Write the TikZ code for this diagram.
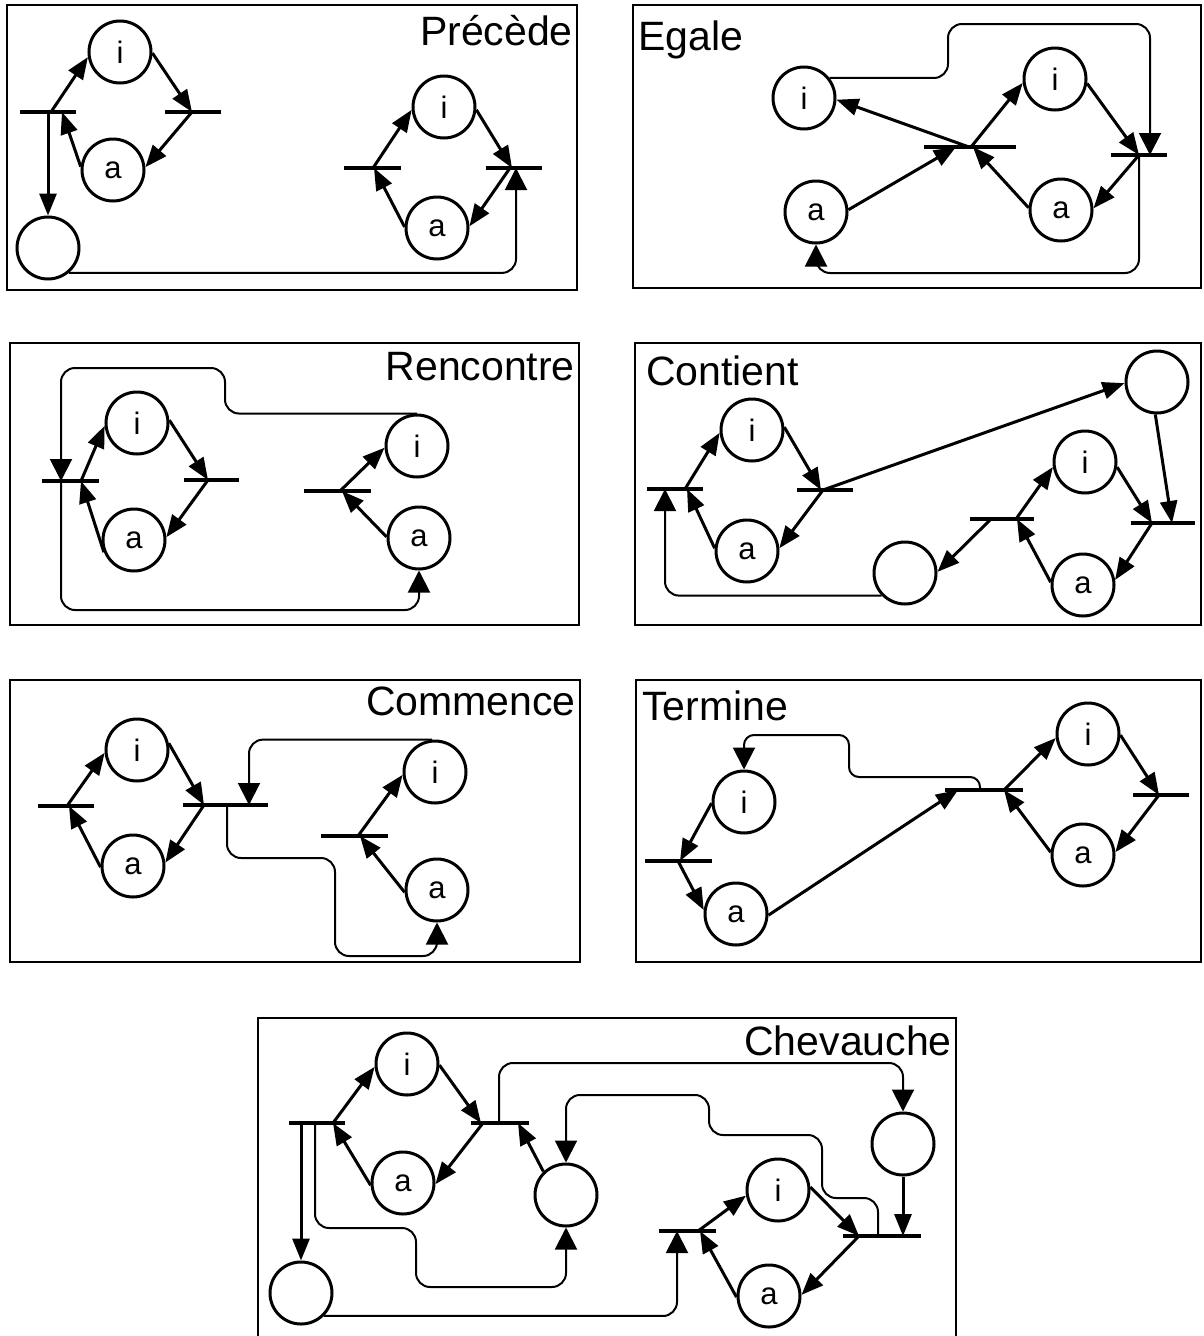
\documentclass[tikz,border=0pt]{standalone}
\usepackage{fontspec}
\setmainfont{Liberation Sans}
\usetikzlibrary{arrows.meta}
\begin{document}
\begin{tikzpicture}[x=1pt,y=-1pt,
  circ/.style={circle, draw, line width=3pt, minimum size=62pt, inner sep=0pt, font=\fontsize{31}{31}\selectfont},
  bar/.style={rectangle, fill=black, minimum height=4.4pt, inner sep=0pt, outer sep=0pt},
  arr/.style={line width=3pt, -{Triangle[length=22pt,width=17pt]}},
  connarr/.style={line width=2pt, rounded corners=14pt, -{Triangle[length=22pt,width=22pt]}},
  panel/.style={draw, line width=2.3pt},
  ttl/.style={inner sep=0pt, font=\fontsize{41}{41}\selectfont}]
\fill[white] (0,0) rectangle (1203,1336);
\useasboundingbox (0,0) rectangle (1203,1336);

% ---------------- Panel 1 : Precede
\draw[panel] (7,5) rectangle (577,290);
\node[ttl, anchor=base east] (P1title) at (573,45) {Précède};
\node[circ] (P1i1) at (120,52) {i};
\node[circ] (P1a1) at (113,170) {a};
\node[bar, minimum width=56pt] (P1t1) at (48,112) {};
\node[bar, minimum width=56pt] (P1t2) at (193,112) {};
\node[circ] (P1e) at (48,248) {};
\node[circ] (P1i2) at (444,107) {i};
\node[circ] (P1a2) at (437,228) {a};
\node[bar, minimum width=57pt] (P1t3) at (372,168) {};
\node[bar, minimum width=56pt] (P1t4) at (514,168) {};
\draw[arr] ([xshift=3pt]P1t1.center) -- (P1i1.189);
\draw[arr] (P1i1.358) -- ([xshift=-1pt]P1t2.center);
\draw[arr] ([xshift=-1pt]P1t2.center) -- (P1a1.5);
\draw[arr] (P1a1.174) -- ([xshift=14pt]P1t1.center);
\draw[arr] (P1t1.center) -- (P1e.north);
\draw[connarr] (P1e.-50) -| ([xshift=2pt]P1t4.center);
\draw[arr] ([xshift=1pt]P1t3.center) -- (P1i2.185);
\draw[arr] (P1i2.355) -- ([xshift=-2pt]P1t4.center);
\draw[arr] ([xshift=-4pt]P1t4.center) -- (P1a2.3);
\draw[arr] (P1a2.178) -- ([xshift=2pt]P1t3.center);

% ---------------- Panel 2 : Egale
\draw[panel] (633,5) rectangle (1201,288);
\node[ttl, anchor=base west] (P2title) at (638,50) {Egale};
\node[circ] (P2i1) at (804,98) {i};
\node[circ] (P2a1) at (816,212) {a};
\node[circ] (P2i2) at (1055,79) {i};
\node[circ] (P2a2) at (1061,210) {a};
\node[bar, minimum width=92pt] (P2t1) at (970,147) {};
\node[bar, minimum width=56pt] (P2t2) at (1139,155) {};
\draw[arr] ([xshift=1pt]P2t1.center) -- (P2i2.187);
\draw[arr] (P2i2.352) -- (P2t2.center);
\draw[arr] (P2t2.center) -- (P2a2.3);
\draw[arr] (P2a2.176) -- ([xshift=3pt]P2t1.center);
\draw[arr] ([xshift=-1pt]P2t1.center) -- (P2i1.357);
\draw[arr] (P2a1.4) -- ([xshift=-14pt]P2t1.center);
\draw[connarr] (P2i1.38) -| (948,24) -| ([xshift=11pt]P2t2.center);
\draw[connarr] (P2t2.center) -- (1139,273) -| (P2a1.south);

% ---------------- Panel 3 : Rencontre
\draw[panel] (10,343) rectangle (579,625);
\node[ttl, anchor=base east] (P3title) at (575,380) {Rencontre};
\node[circ] (P3i1) at (137,423) {i};
\node[circ] (P3a1) at (134,540) {a};
\node[bar, minimum width=57pt] (P3t1) at (70,481) {};
\node[bar, minimum width=55pt] (P3t2) at (211,480) {};
\node[circ] (P3i2) at (417,446) {i};
\node[circ] (P3a2) at (419,538) {a};
\node[bar, minimum width=67pt] (P3t3) at (337,491) {};
\draw[arr] ([xshift=11pt]P3t1.center) -- (P3i1.185);
\draw[arr] (P3i1.5) -- ([xshift=-3pt]P3t2.center);
\draw[arr] ([xshift=-3pt]P3t2.center) -- (P3a1.5);
\draw[arr] (P3a1.202) -- ([xshift=11pt]P3t1.center);
\draw[arr] ([xshift=3pt]P3t3.center) -- (P3i2.183);
\draw[arr] (P3a2.178) -- ([xshift=5pt]P3t3.center);
\draw[connarr] (P3i2.north) -| (225,368) -| ([xshift=-9pt]P3t1.center);
\draw[connarr] ([xshift=-9pt]P3t1.center) -- (61,610) -| (P3a2.south);

% ---------------- Panel 4 : Contient
\draw[panel] (635,343) rectangle (1201,625);
\node[ttl, anchor=base west] (P4title) at (646,385) {Contient};
\node[circ] (P4i1) at (752,430) {i};
\node[circ] (P4a1) at (747,551) {a};
\node[bar, minimum width=56pt] (P4t1) at (675,489) {};
\node[bar, minimum width=56pt] (P4t2) at (825,490) {};
\node[circ] (P4e1) at (1157,382) {};
\node[circ] (P4e2) at (905,573) {};
\node[circ] (P4i2) at (1085,462) {i};
\node[circ] (P4a2) at (1083,585) {a};
\node[bar, minimum width=64pt] (P4t3) at (1002,519) {};
\node[bar, minimum width=64pt] (P4t4) at (1163,523) {};
\draw[arr] ([xshift=10pt]P4t1.center) -- (P4i1.185);
\draw[arr] (P4i1.5) -- ([xshift=-4pt]P4t2.center);
\draw[arr] ([xshift=-2pt]P4t2.center) -- (P4a1.5);
\draw[arr] (P4a1.175) -- ([xshift=12pt]P4t1.center);
\draw[arr] ([xshift=-2pt]P4t2.center) -- (P4e1.182);
\draw[arr] (P4e1.-93) -- ([xshift=9pt]P4t4.center);
\draw[arr] ([xshift=-11pt]P4t3.center) -- (P4e2.2);
\draw[connarr] (P4e2.224) -| ([xshift=-10pt]P4t1.center);
\draw[arr] ([xshift=14pt]P4t3.center) -- (P4i2.189);
\draw[arr] (P4i2.351) -- ([xshift=-11pt]P4t4.center);
\draw[arr] ([xshift=-11pt]P4t4.center) -- (P4a2.9);
\draw[arr] (P4a2.175) -- ([xshift=15pt]P4t3.center);

% ---------------- Panel 5 : Commence
\draw[panel] (10,680) rectangle (580,962);
\node[ttl, anchor=base east] (P5title) at (576,715) {Commence};
\node[circ] (P5i1) at (137,750) {i};
\node[circ] (P5a1) at (133,866) {a};
\node[bar, minimum width=56pt] (P5t1) at (66,806) {};
\node[bar, minimum width=85pt] (P5t2) at (225,805) {};
\node[circ] (P5i2) at (435,772) {i};
\node[circ] (P5a2) at (437,890) {a};
\node[bar, minimum width=67pt] (P5t3) at (354,836) {};
\draw[arr] ([xshift=1pt]P5t1.center) -- (P5i1.185);
\draw[arr] (P5i1.12) -- ([xshift=-21pt]P5t2.center);
\draw[arr] ([xshift=-21pt]P5t2.center) -- (P5a1.6);
\draw[arr] (P5a1.182) -- ([xshift=3pt]P5t1.center);
\draw[arr] ([xshift=4pt]P5t3.center) -- (P5i2.185);
\draw[arr] (P5a2.184) -- ([xshift=6pt]P5t3.center);
\draw[connarr] (P5i2.95) -| ([xshift=24pt]P5t2.center);
\draw[connarr] ([xshift=2pt]P5t2.center) |- (335,858) |- (437,956) -- (P5a2.south);

% ---------------- Panel 6 : Termine
\draw[panel] (636,680) rectangle (1201,962);
\node[ttl, anchor=base west] (P6title) at (642,720) {Termine};
\node[circ] (P6i1) at (744,802) {i};
\node[circ] (P6a1) at (736,914) {a};
\node[bar, minimum width=67pt] (P6t1) at (678,861) {};
\node[bar, minimum width=78pt] (P6t2) at (984,790) {};
\node[circ] (P6i2) at (1088,734) {i};
\node[circ] (P6a2) at (1083,855) {a};
\node[bar, minimum width=56pt] (P6t3) at (1161,795) {};
\draw[arr] (P6i1.182) -- ([xshift=2pt]P6t1.center);
\draw[arr] (P6t1.center) -- (P6a1.173);
\draw[arr] (P6a1.358) -- ([xshift=-26pt]P6t2.center);
\draw[connarr, rounded corners=10pt] ([xshift=-4pt]P6t2.center) |- (849,777) -- (849,735) -| (P6i1.north);
\draw[arr] ([xshift=20pt]P6t2.center) -- (P6i2.187);
\draw[arr] (P6i2.358) -- ([xshift=-2pt]P6t3.center);
\draw[arr] ([xshift=-2pt]P6t3.center) -- (P6a2.5);
\draw[arr] (P6a2.175) -- ([xshift=20pt]P6t2.center);

% ---------------- Panel 7 : Chevauche
\draw[panel] (258,1336) -- (258,1018) -- (956,1018) -- (956,1336);
\node[ttl, anchor=base east] (P7title) at (952,1055) {Chevauche};
\node[circ] (P7i1) at (407,1064) {i};
\node[circ] (P7a1) at (403,1183) {a};
\node[bar, minimum width=56pt] (P7t1) at (317,1123) {};
\node[bar, minimum width=58pt] (P7t2) at (500,1123) {};
\node[circ] (P7e1) at (301,1293) {};
\node[circ] (P7e2) at (566,1195) {};
\node[circ] (P7e3) at (903,1144) {};
\node[circ] (P7i2) at (778,1190) {i};
\node[circ] (P7a2) at (769,1296) {a};
\node[bar, minimum width=57pt] (P7t3) at (687,1231) {};
\node[bar, minimum width=78pt] (P7t4) at (882,1236) {};
\draw[arr] ([xshift=16pt]P7t1.center) -- (P7i1.185);
\draw[arr] (P7i1.358) -- ([xshift=-19pt]P7t2.center);
\draw[arr] ([xshift=-17pt]P7t2.center) -- (P7a1.358);
\draw[arr] (P7a1.184) -- ([xshift=16pt]P7t1.center);
\draw[arr] ([xshift=-16pt]P7t1.center) -- (P7e1.north);
\draw[connarr] ([xshift=-2pt]P7t1.center) |- (416,1228) |- (566,1287) -- (P7e2.south);
\draw[arr] (P7e2.134) -- ([xshift=18pt]P7t2.center);
\draw[connarr] ([xshift=-1pt]P7t2.center) |- (903,1063) -- (P7e3.north);
\draw[arr] (P7e3.south) -- ([xshift=21pt]P7t4.center);
\draw[connarr] ([xshift=-4pt]P7t4.center) |- (822,1198) |- (709,1135) |- (566,1095) -- (P7e2.north);
\draw[connarr] (P7e1.-45) -| ([xshift=-10pt]P7t3.center);
\draw[arr] ([xshift=11pt]P7t3.center) -- (P7i2.190);
\draw[arr] (P7i2.5) -- ([xshift=-23pt]P7t4.center);
\draw[arr] ([xshift=-23pt]P7t4.center) -- (P7a2.2);
\draw[arr] (P7a2.182) -- ([xshift=13pt]P7t3.center);
\end{tikzpicture}
\end{document}
